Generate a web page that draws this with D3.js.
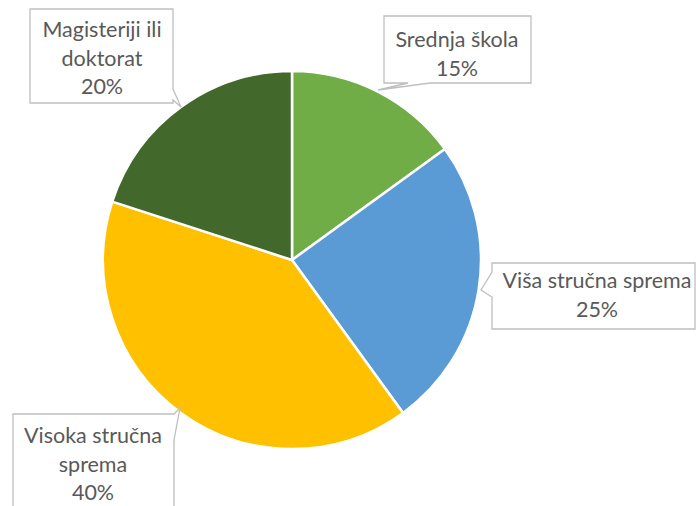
<!DOCTYPE html>
<html><head><meta charset="utf-8">
<script src="https://cdn.jsdelivr.net/npm/d3@7"></script>
<style>body{margin:0;background:#fff}svg{display:block}</style>
</head><body>
<svg id="c" width="696" height="506"></svg>
<script>
const categories = ["Srednja škola", "Viša stručna sprema", "Visoka stručna sprema", "Magisteriji ili doktorat"];
const values = [15, 25, 40, 20];
const labelLines = [["Srednja škola"], ["Viša stručna sprema"], ["Visoka stručna", "sprema"], ["Magisteriji ili", "doktorat"]];
const colors = ["#70AD47", "#5B9BD5", "#FFC000", "#43682B"];

const svg = d3.select("#c");
const cx = 292, cy = 260, R = 189;
const total = d3.sum(values);
const pie = d3.pie().sort(null).value(d => d)(values);
const arc = d3.arc().innerRadius(0).outerRadius(R);
const g = svg.append("g").attr("transform", `translate(${cx},${cy})`);
g.selectAll("path").data(pie).join("path")
  .attr("d", arc).attr("fill", (d, i) => colors[i])
  .attr("stroke", "#fff").attr("stroke-width", 2.5).attr("stroke-linejoin","round");

// callout layout (box rect + tail)
const boxes = [
  {x:384, y:16, w:147, h:67, side:"bottom", a:408, b:430, tip:[378,90], tx:457, ty:47},
  {x:492, y:263, w:203, h:66, side:"left", a:272, b:297, tip:[481,290], tx:597, ty:288},
  {x:13, y:414, w:161, h:110, side:"right", a:414, b:440, tip:[180,408], tx:93, ty:443},
  {x:30, y:9, w:143, h:94, side:"right", a:89, b:100, tip:[181,107], tx:102, ty:37}
];
function calloutPath(bx){
  const {x,y,w,h,side,a,b,tip} = bx;
  const r = x+w, btm = y+h;
  let p;
  if(side==="bottom"){
    p = [[x,y],[r,y],[r,btm],[b,btm],tip,[a,btm],[x,btm]];
  } else if(side==="left"){
    p = [[x,y],[r,y],[r,btm],[x,btm],[x,b],tip,[x,a]];
  } else {
    p = [[x,y],[r,y],[r,a],tip,[r,b],[r,btm],[x,btm]];
    if(a<=y){ p = [[x,y],[r,y],tip,[r,b],[r,btm],[x,btm]]; }
  }
  return d3.line()(p) + "Z";
}
const lab = svg.append("g");
boxes.forEach((bx, i) => {
  lab.append("path").attr("d", calloutPath(bx))
    .attr("fill", "#fff").attr("stroke", "#BFBFBF").attr("stroke-width", 1.3);
  const lines = labelLines[i].concat([Math.round(values[i] / total * 100) + "%"]);
  const t = lab.append("text").attr("text-anchor", "middle")
    .attr("font-family", "Lato, 'Open Sans', sans-serif").attr("font-size", 21.5)
    .attr("fill", "#595959");
  lines.forEach((ln, j) => t.append("tspan").attr("x", bx.tx).attr("y", bx.ty + j * 28.5).text(ln));
});
</script>
</body></html>
